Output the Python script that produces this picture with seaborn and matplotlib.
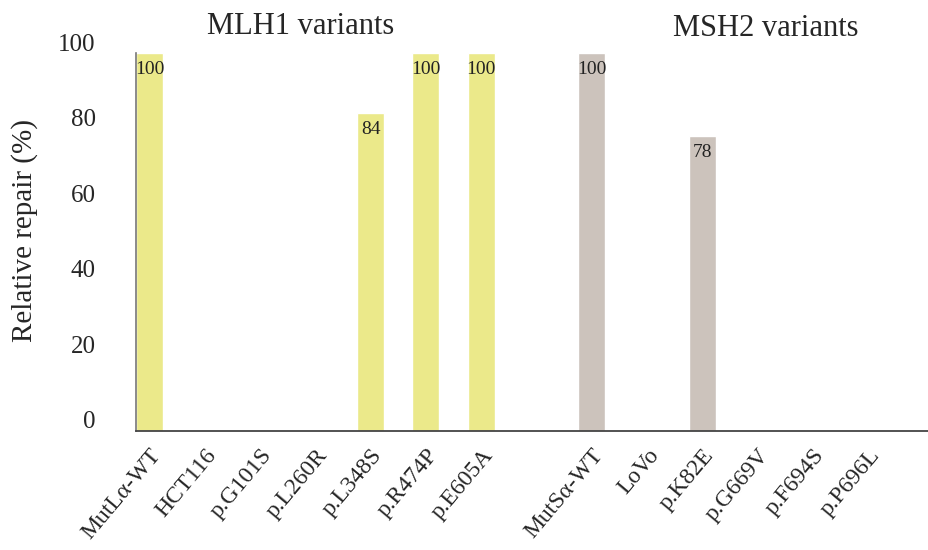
import matplotlib
matplotlib.use('Agg')
import pandas as pd
import seaborn as sns
from matplotlib import pyplot as plt
from matplotlib.transforms import ScaledTranslation

# valores
mlh1_names = ['MutLα-WT', 'HCT116', 'p.G101S', 'p.L260R', 'p.L348S', 'p.R474P', 'p.E605A']
mlh1_repair = [100, 0, 0, 0, 84, 100, 100]
msh2_names = ['MutSα-WT', 'LoVo', 'p.K82E', 'p.G669V', 'p.F694S', 'p.P696L']
msh2_repair = [100, 0, 78, 0, 0, 0]

df = pd.DataFrame({
    'variant': mlh1_names + msh2_names,
    'repair': mlh1_repair + msh2_repair,
    'gene': ['MLH1'] * len(mlh1_names) + ['MSH2'] * len(msh2_names),
})
# categoria vazia para separar os dois grupos
order = mlh1_names + [''] + msh2_names

sns.set_style('white')
plt.rcParams['font.family'] = ['Liberation Serif', 'DejaVu Serif']

fig = plt.figure(figsize=(9.29, 5.5), dpi=100)
ax = fig.add_axes([0.1464, 0.2164, 0.8536, 0.6872])
sns.barplot(data=df, x='variant', y='repair', hue='gene', order=order,
            palette={'MLH1': '#EBE98A', 'MSH2': '#CCC3BC'}, dodge=False,
            width=0.49, saturation=1, errorbar=None, legend=False, ax=ax)

for c in ax.containers:
    labels = [f'{v:.0f}' if v > 0 else '' for v in c.datavalues]
    ax.bar_label(c, labels=labels, padding=-18, fontsize=14, color='#222222')

ax.set_ylim(0, 100)
ax.set_xlim(-0.245, 14.1)
ax.set_yticks([0, 20, 40, 60, 80, 100])
ax.tick_params(axis='y', length=0, pad=29, labelsize=18)
ax.tick_params(axis='x', length=0, pad=10, labelsize=17)
for lab in ax.get_xticklabels():
    lab.set_rotation(50)
    lab.set_ha('right')
    lab.set_rotation_mode('anchor')
for lab in ax.get_yticklabels():
    lab.set_transform(lab.get_transform() + ScaledTranslation(0, 0.11, fig.dpi_scale_trans))

ax.set_xlabel('')
ax.set_ylabel('')
for s in ['top', 'right']:
    ax.spines[s].set_visible(False)
ax.spines['left'].set_color('#777777')
ax.spines['left'].set_linewidth(1.2)
ax.spines['bottom'].set_color('#444444')
ax.spines['bottom'].set_linewidth(1.3)

fig.text(25 / 929, 1 - 230 / 550, 'Relative repair (%)', rotation=90,
         ha='center', va='center', fontsize=21)
fig.text(301 / 929, 1 - 27 / 550, 'MLH1 variants', ha='center', va='center', fontsize=22)
fig.text(766 / 929, 1 - 29 / 550, 'MSH2 variants', ha='center', va='center', fontsize=22)

fig.savefig('out.png', dpi=100)
